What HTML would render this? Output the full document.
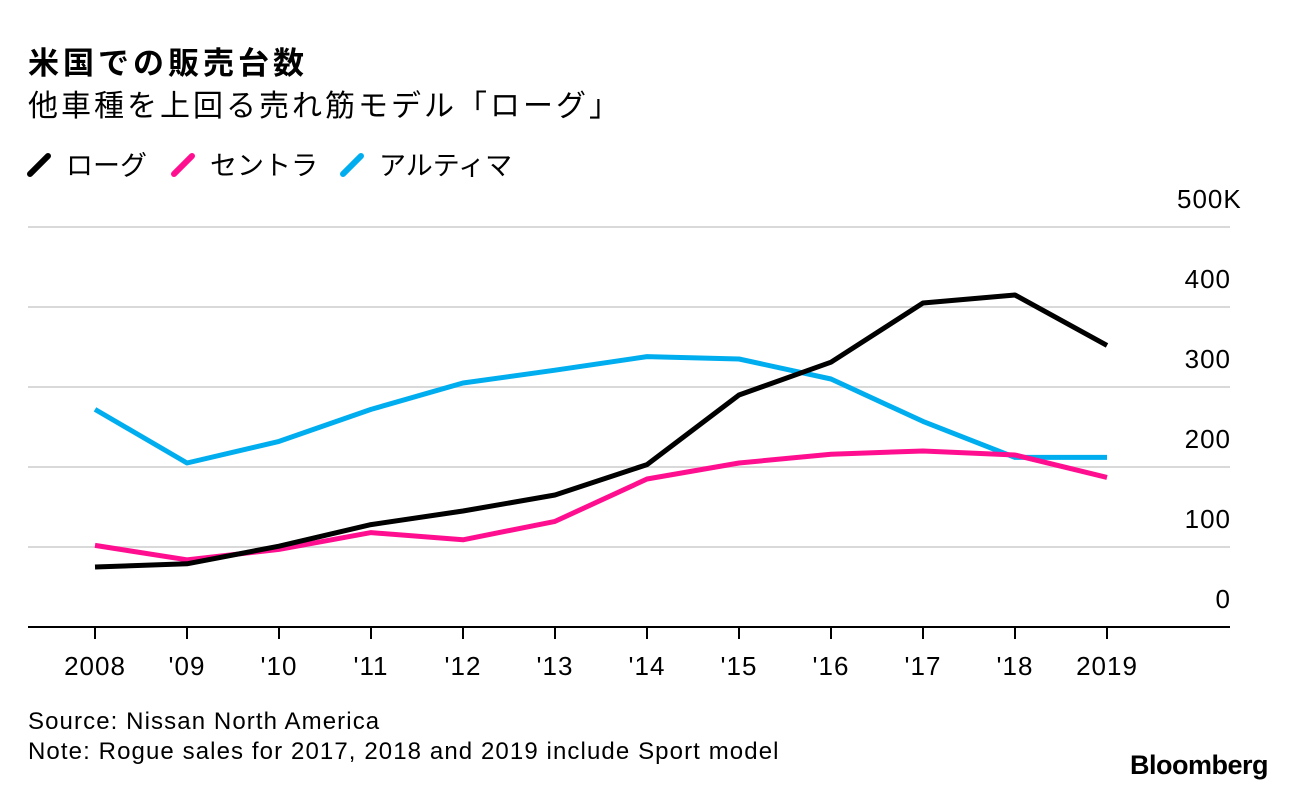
<!DOCTYPE html>
<html><head><meta charset="utf-8">
<style>
body{margin:0;background:#fff;width:1296px;height:790px;overflow:hidden;font-family:"Liberation Sans","Noto Sans CJK JP",sans-serif;}
</style></head>
<body>
<svg width="1296" height="790" style="position:absolute;left:0;top:0" font-family="Liberation Sans, Noto Sans CJK JP, sans-serif">
<text x="28" y="74" font-size="31" font-weight="bold" fill="#000" letter-spacing="4">米国での販売台数</text>
<text x="28" y="116" font-size="30" fill="#000" letter-spacing="3">他車種を上回る売れ筋モデル「ローグ」</text>
<g id="legend" font-size="27"></g>
<g id="grid"></g>
<g id="lines"></g>
<g id="xaxis"></g>
<text x="28" y="729" font-size="24" fill="#000" letter-spacing="1.1">Source: Nissan North America</text>
<text x="28" y="759" font-size="24" fill="#000" letter-spacing="1.1">Note: Rogue sales for 2017, 2018 and 2019 include Sport model</text>
<text x="1268" y="774" font-size="27" font-weight="bold" text-anchor="end" fill="#000" letter-spacing="-0.5">Bloomberg</text>
</svg>
<script>
const categories=["2008","'09","'10","'11","'12","'13","'14","'15","'16","'17","'18","2019"];
const rogue=[75,79,101,128,145,165,203,290,331,405,415,352];
const sentra=[102,84,97,118,109,132,185,205,216,220,215,187];
const altima=[272,205,232,272,305,321,338,335,310,257,212,212];
const yTicks=[0,100,200,300,400,500];
const yTickLabels=["0","100","200","300","400","500K"];
const seriesNames=["ローグ","セントラ","アルティマ"];
const NS="http://www.w3.org/2000/svg";
const X=i=>95+i*(1107-95)/(categories.length-1);
const Y=v=>627-v*0.8;
function mk(tag,attrs,parent){const e=document.createElementNS(NS,tag);for(const k in attrs)e.setAttribute(k,attrs[k]);parent.appendChild(e);return e;}
const grid=document.getElementById('grid');
yTicks.forEach((t,i)=>{
  if(t>0){const l=mk('line',{x1:28,x2:1230,y1:Y(t),y2:Y(t),stroke:'#d9d9d9','stroke-width':2},grid);
  
  }
  const tx=mk('text',{x:1231,y:Y(t)-19,'font-size':26,'text-anchor':'end','letter-spacing':1,fill:'#000'},grid);
  if(t===500){tx.setAttribute('text-anchor','start');tx.setAttribute('x',1177);}
  
  
  tx.textContent=yTickLabels[i];
});
const xa=document.getElementById('xaxis');
const ax=mk('line',{x1:28,x2:1230,y1:627,y2:627,stroke:'#000','stroke-width':2},xa);


categories.forEach((c,i)=>{
  const tk=mk('line',{x1:X(i),x2:X(i),y1:627,y2:639,stroke:'#000','stroke-width':2},xa);
  
  
  const t=mk('text',{x:X(i),y:675,'font-size':26,'text-anchor':'middle','letter-spacing':1,fill:'#000'},xa);
  
  
  t.textContent=c;
});
const lines=document.getElementById('lines');
const series=[[altima,'#00aeef','altima-line'],[sentra,'#ff0f8f','sentra-line'],[rogue,'#000','rogue-line']];
series.forEach(([d,col,name])=>{
  const p=mk('polyline',{points:d.map((v,i)=>X(i)+','+Y(v)).join(' '),fill:'none',stroke:col,'stroke-width':5,'stroke-linejoin':'round'},lines);
  
  
});
const lg=document.getElementById('legend');
const lcols=['#000','#ff0f8f','#00aeef'];const lx=[30,174,343];
seriesNames.forEach((n,i)=>{
  const l=mk('line',{x1:lx[i],y1:174,x2:lx[i]+18,y2:156,stroke:lcols[i],'stroke-width':6,'stroke-linecap':'round'},lg);
  
  
  const t=mk('text',{x:lx[i]+36,y:175,fill:'#000'},lg);
  
  
  t.textContent=n;
});
</script>
</body></html>
